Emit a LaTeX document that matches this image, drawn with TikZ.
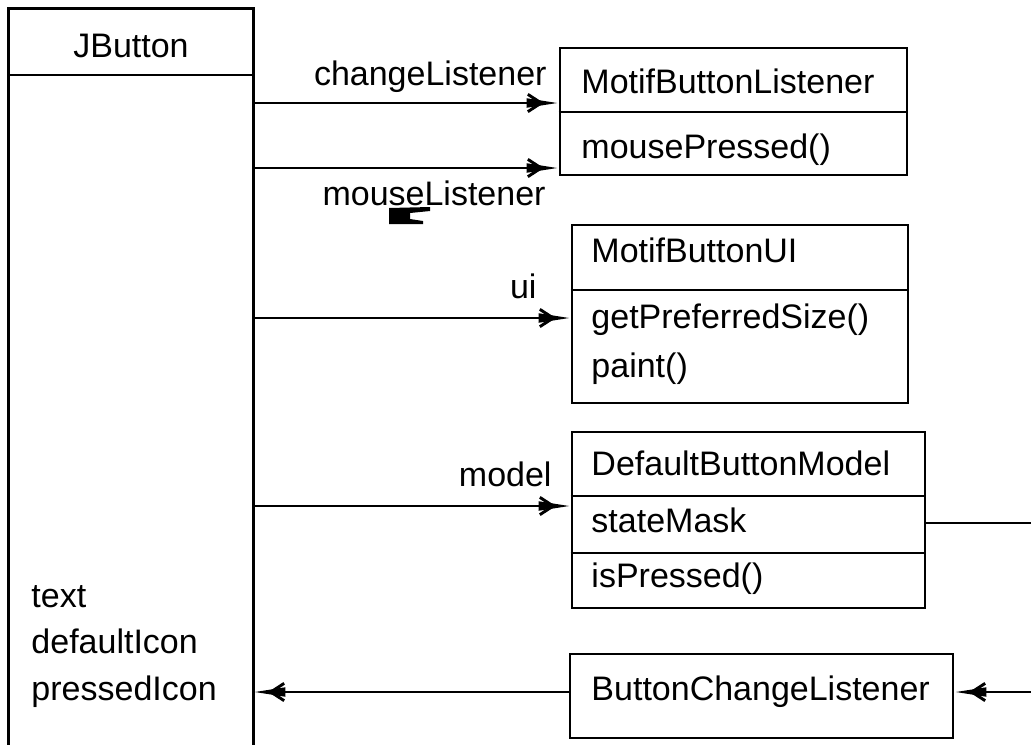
\documentclass[tikz,border=0pt]{standalone}
\usepackage{fontspec}
\setmainfont{Liberation Sans}
\usetikzlibrary{arrows.meta,fit}
\begin{document}
\begin{tikzpicture}[x=0.75pt,y=-0.75pt, line width=2.2pt,
  every node/.style={font=\fontsize{25.5pt}{34pt}\selectfont, inner sep=0pt},
  cls/.style={draw, inner sep=0pt},
  txt/.style={anchor=base west},
  lbl/.style={anchor=base east},
  arr/.style={-{Straight Barb[length=10pt,width=13pt,sep=-13pt]Triangle[length=24pt,width=6.5pt]}}]
\useasboundingbox (0,0) rectangle (1031,744);

% JButton class (open at the bottom of the page)
\node[fit={(10,10)(252,752)}] (jb) {};
\draw (jb.south west) -- (jb.north west) -- (jb.north east) -- (jb.south east);
\draw (jb.west |- 0,75) -- (jb.east |- 0,75);
\node[anchor=base] (jbname) at (131,57) {JButton};
\node[txt] (jbtext) at (30,607) {text};
\node[txt] (jbdef) at (30,653) {defaultIcon};
\node[txt] (jbpr) at (30,700) {pressedIcon};

% MotifButtonListener
\node[cls, fit={(560,48)(907,175)}] (mbl) {};
\draw (mbl.west |- 0,112) -- (mbl.east |- 0,112);
\node[txt] (mblname) at (580,93) {MotifButtonListener};
\node[txt] (mblop) at (580,158) {mousePressed()};

% MotifButtonUI
\node[cls, fit={(572,225)(908,403)}] (mui) {};
\draw (mui.west |- 0,290) -- (mui.east |- 0,290);
\node[txt] (muiname) at (590,262) {MotifButtonUI};
\node[txt] (muiop1) at (590,328) {getPreferredSize()};
\node[txt] (muiop2) at (590,377) {paint()};

% DefaultButtonModel
\node[cls, fit={(572,432)(925,608)}] (dbm) {};
\draw (dbm.west |- 0,496) -- (dbm.east |- 0,496);
\draw (dbm.west |- 0,553) -- (dbm.east |- 0,553);
\node[txt] (dbmname) at (590,475) {DefaultButtonModel};
\node[txt] (dbmattr) at (590,532) {stateMask};
\node[txt] (dbmop) at (590,587) {isPressed()};

% ButtonChangeListener
\node[cls, fit={(570,654)(953,738)}] (bcl) {};
\node[txt] (bclname) at (590,700) {ButtonChangeListener};

% references from JButton
\draw[arr] (jb.east |- 0,103) -- (mbl.west |- 0,103);
\node[lbl] (lchg) at (548,85) {changeListener};
\draw[arr] (jb.east |- 0,168) -- (mbl.west |- 0,168);
\node[lbl] (lmouse) at (547,205) {mouseListener};
\fill (389,208) -- (430,207) -- (430,211) -- (410,213) -- (410,219) -- (423,221) -- (423,224) -- (389,224) -- cycle;
\draw[arr] (jb.east |- 0,318) -- (mui.west |- 0,318);
\node[lbl] (lui) at (538,298) {ui};
\draw[arr] (jb.east |- 0,506) -- (dbm.west |- 0,506);
\node[lbl] (lmodel) at (553,486) {model};

% change notification path along the right edge
\coordinate (edgeA) at (1034,523);
\coordinate (edgeB) at (1034,692);
\draw (dbm.east |- edgeA) -- (edgeA);
\draw[arr] (edgeB) -- (bcl.east |- edgeB);
\draw[arr] (bcl.west |- 0,692) -- (jb.east |- 0,692);
\end{tikzpicture}
\end{document}
